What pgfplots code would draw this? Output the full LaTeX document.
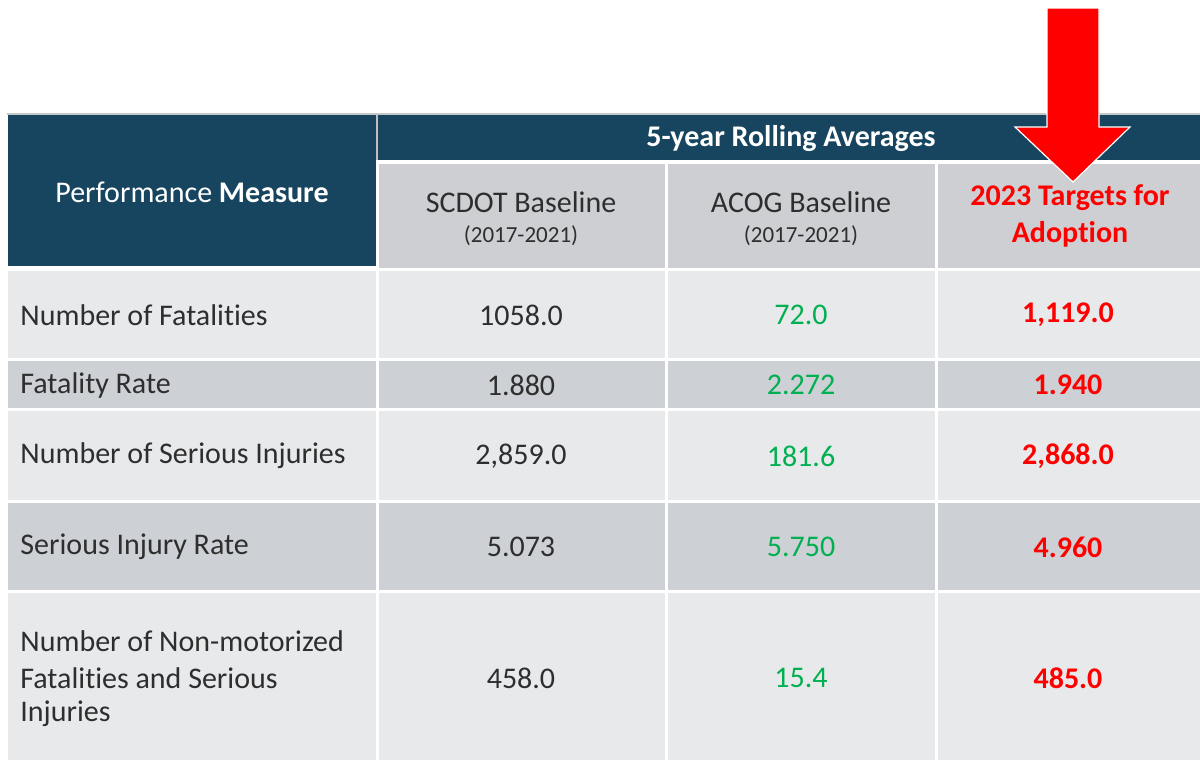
\documentclass[border=0pt]{standalone}
\usepackage{pgfplots}
\pgfplotsset{compat=1.18}
\usepackage{pgfplotstable}
\usepackage{fontspec}
\setmainfont{Carlito}[Ligatures={NoCommon,NoRare,NoDiscretionary}]
\newcommand\tI{t\kern0pt i}
\definecolor{navy}{HTML}{17455F}
\definecolor{lightrow}{HTML}{E8E9EB}
\definecolor{darkrow}{HTML}{CDD0D4}
\definecolor{subhead}{HTML}{CDCFD3}
\definecolor{txt}{HTML}{2E2E2E}
\definecolor{grn}{HTML}{00B050}
\definecolor{rd}{HTML}{FF0000}

\pgfplotstableread{
x y v
521 315 1058.0
521 385 1.880
521 456 2,859.0
521 547 5.073
521 678 458.0
}\scdot
\pgfplotstableread{
x y v
801 315 72.0
801 385 2.272
801 456 181.6
801 547 5.750
801 678 15.4
}\acog
\pgfplotstableread{
x y v
1068 315 1,119.0
1068 385 1.940
1068 456 2,868.0
1068 547 4.960
1068 678 485.0
}\targets

\newcommand\tablerow[3]{%
  \fill[#3] (axis cs:8,#1) rectangle (axis cs:376,#2);
  \fill[#3] (axis cs:379,#1) rectangle (axis cs:665,#2);
  \fill[#3] (axis cs:668,#1) rectangle (axis cs:935,#2);
  \fill[#3] (axis cs:938,#1) rectangle (axis cs:1200,#2);
}
\newcommand\rowlabel[2]{%
  \node[text=txt, anchor=west, font=\fontsize{15}{18}\selectfont, inner xsep=0pt] at (axis cs:20,#1) {#2};
}

\begin{document}
\begin{tikzpicture}
\begin{axis}[
  scale only axis, width=600pt, height=380pt,
  xmin=0, xmax=1200, ymin=0, ymax=760, y dir=reverse,
  hide axis, clip=false,
  every node near coord/.append style={anchor=center, font=\fontsize{15}{18}\selectfont},
]
\path (axis cs:0,0) rectangle (axis cs:1200,760);
% top border
\fill[black!22] (axis cs:7,113) rectangle (axis cs:1200,115);
% header
\fill[navy] (axis cs:8,115) rectangle (axis cs:376,266);
\fill[black!25] (axis cs:376,115) rectangle (axis cs:378,160);
\fill[navy] (axis cs:378,115) rectangle (axis cs:1200,160);
\fill[subhead] (axis cs:379,164) rectangle (axis cs:665,268);
\fill[subhead] (axis cs:668,164) rectangle (axis cs:935,268);
\fill[subhead] (axis cs:938,164) rectangle (axis cs:1200,268);
% rows
\tablerow{271}{358}{lightrow}
\tablerow{361}{408}{darkrow}
\tablerow{411}{500}{lightrow}
\tablerow{503}{590}{darkrow}
\tablerow{593}{760}{lightrow}
% header texts
\node[text=white, font=\fontsize{15}{18}\selectfont] at (axis cs:192,192) {Performance \textbf{Measure}};
\node[text=white, font=\fontsize{15}{18}\selectfont\bfseries] at (axis cs:791,139) {5-year Rolling Averages};
\node[text=txt, font=\fontsize{15}{18}\selectfont] at (axis cs:521,202) {SCDOT Baseline};
\node[text=txt, font=\fontsize{11.5}{14}\selectfont] at (axis cs:521,236) {(2017-2021)};
\node[text=txt, font=\fontsize{15}{18}\selectfont] at (axis cs:801,202) {ACOG Baseline};
\node[text=txt, font=\fontsize{11.5}{14}\selectfont] at (axis cs:801,236) {(2017-2021)};
\node[text=rd, font=\fontsize{15}{18}\selectfont\bfseries] at (axis cs:1070,198) {2023 Targets for};
\node[text=rd, font=\fontsize{15}{18}\selectfont\bfseries] at (axis cs:1070,234) {Adop\tI on};
% row labels
\rowlabel{315}{Number of Fatali\tI es}
\rowlabel{385}{Fatality Rate}
\rowlabel{456}{Number of Serious Injuries}
\rowlabel{547}{Serious Injury Rate}
\rowlabel{641}{Number of Non-motorized}
\rowlabel{678}{Fatali\tI es and Serious}
\rowlabel{714}{Injuries}
% values
\addplot[draw=none, mark=none, nodes near coords, point meta=explicit symbolic,
  every node near coord/.append style={text=txt}] table[x=x, y=y, meta=v] {\scdot};
\addplot[draw=none, mark=none, nodes near coords, point meta=explicit symbolic,
  every node near coord/.append style={text=grn}] table[x=x, y=y, meta=v] {\acog};
\addplot[draw=none, mark=none, nodes near coords, point meta=explicit symbolic,
  every node near coord/.append style={text=rd, font=\fontsize{15}{18}\selectfont\bfseries}] table[x=x, y=y, meta=v] {\targets};
% arrow
\fill[rd, draw=white, line width=0.6pt] (axis cs:1047,8) -- (axis cs:1099,8) -- (axis cs:1099,127) -- (axis cs:1130,127) -- (axis cs:1073,182) -- (axis cs:1015,127) -- (axis cs:1047,127) -- cycle;
\end{axis}
\end{tikzpicture}
\end{document}
